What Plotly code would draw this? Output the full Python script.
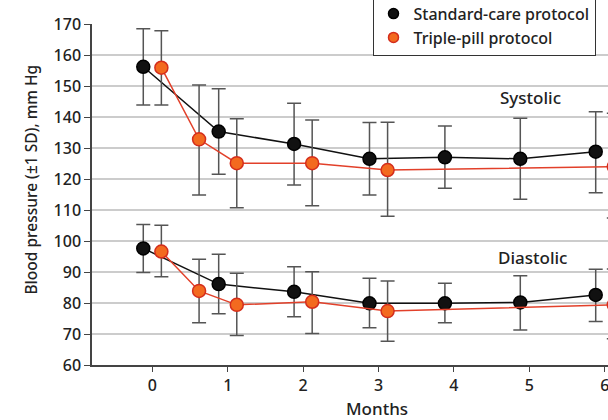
import plotly.graph_objects as go

# Visit schedule (months) for each protocol
months_std = [0, 1, 2, 3, 4, 5, 6]
months_tp = [0, 0.5, 1, 2, 3, 6]

# Systolic blood pressure, mean and ±1 SD bounds (mm Hg)
sys_std_mean = [156.2, 135.3, 131.3, 126.5, 127.0, 126.5, 128.8]
sys_std_upper = [168.5, 149.1, 144.4, 138.2, 137.1, 139.6, 141.7]
sys_std_lower = [143.9, 121.5, 118.1, 114.8, 117.0, 113.5, 115.6]

sys_tp_mean = [155.9, 132.8, 125.1, 125.1, 122.9, 124.0]
sys_tp_upper = [167.8, 150.3, 139.4, 139.0, 138.3, 141.2]
sys_tp_lower = [143.9, 114.8, 110.7, 111.4, 108.0, 107.4]

# Diastolic blood pressure, mean and ±1 SD bounds (mm Hg)
dia_std_mean = [97.6, 86.1, 83.6, 79.9, 79.9, 80.2, 82.6]
dia_std_upper = [105.3, 95.7, 91.7, 88.0, 86.4, 88.8, 90.9]
dia_std_lower = [89.8, 76.5, 75.6, 72.0, 73.6, 71.3, 74.0]

dia_tp_mean = [96.6, 83.9, 79.4, 80.4, 77.4, 79.4]
dia_tp_upper = [105.1, 94.1, 89.6, 90.1, 87.1, 91.0]
dia_tp_lower = [88.5, 73.6, 69.5, 70.2, 67.7, 68.5]

series_names = ["Standard-care protocol", "Triple-pill protocol"]
panel_labels = ["Systolic", "Diastolic"]
y_ticks = list(range(60, 171, 10))
x_ticks = [0, 1, 2, 3, 4, 5, 6]

FONT = "Noto Sans"
TEXT = "#222222"
WEIGHT = 500
DODGE = 0.12

STD_STYLE = dict(line_color="#111111", fill="#111111", edge="#000000")
TP_STYLE = dict(line_color="#e2402a", fill="#f36a1f", edge="#d42d1c")


def sd_trace(months, mean, upper, lower, style, offset):
    return go.Scatter(
        x=[m + offset for m in months],
        y=mean,
        mode="lines+markers",
        showlegend=False,
        line=dict(color=style["line_color"], width=1.5),
        marker=dict(size=13, color=style["fill"],
                    line=dict(color=style["edge"], width=1.5)),
        error_y=dict(
            type="data",
            symmetric=False,
            array=[u - m for u, m in zip(upper, mean)],
            arrayminus=[m - l for m, l in zip(mean, lower)],
            color="#555555",
            thickness=1.5,
            width=7,
        ),
        hoverinfo="skip",
    )


fig = go.Figure()
fig.add_trace(sd_trace(months_std, sys_std_mean, sys_std_upper, sys_std_lower, STD_STYLE, -DODGE))
fig.add_trace(sd_trace(months_tp, sys_tp_mean, sys_tp_upper, sys_tp_lower, TP_STYLE, DODGE))
fig.add_trace(sd_trace(months_std, dia_std_mean, dia_std_upper, dia_std_lower, STD_STYLE, -DODGE))
fig.add_trace(sd_trace(months_tp, dia_tp_mean, dia_tp_upper, dia_tp_lower, TP_STYLE, DODGE))

# Marker-only legend entries
for name, style in zip(series_names, [STD_STYLE, TP_STYLE]):
    fig.add_trace(go.Scatter(
        x=[None], y=[None], mode="markers", name=name,
        marker=dict(size=10, color=style["fill"],
                    line=dict(color=style["edge"], width=1.5)),
    ))


def font(size):
    return dict(family=FONT, size=size, color=TEXT, weight=WEIGHT)


annotations = [
    dict(text=panel_labels[0], x=5.02, y=146.2, xref="x", yref="y",
         showarrow=False, font=font(17)),
    dict(text=panel_labels[1], x=5.04, y=94.8, xref="x", yref="y",
         showarrow=False, font=font(17)),
    dict(text="Months", x=2.98, y=-0.128, xref="x", yref="paper",
         xanchor="center", yanchor="middle", showarrow=False,
         font=font(17)),
    dict(text="Blood pressure (±1 SD), mm Hg", x=-0.119, y=119.7,
         xref="paper", yref="y", xanchor="center", yanchor="middle",
         textangle=-90, showarrow=False, font=font(15.5)),
]

fig.update_layout(
    width=608,
    height=420,
    margin=dict(l=92, r=0, t=24, b=55, autoexpand=False),
    paper_bgcolor="white",
    plot_bgcolor="white",
    font=font(16),
    annotations=annotations,
    legend=dict(
        x=(372.5 - 92) / 516, y=(365 - 55.7) / 341,
        xanchor="left", yanchor="bottom",
        bgcolor="white", bordercolor="#333333", borderwidth=1,
        font=font(16),
        tracegroupgap=0,
    ),
    xaxis=dict(
        range=[-0.80, 6.043],
        tickvals=x_ticks,
        showgrid=False,
        zeroline=False,
        showline=True, linecolor="#444444", linewidth=1.5,
        ticks="outside", ticklen=5, tickwidth=1.2, tickcolor="#444444",
        tickfont=font(16),
        ticklabeloverflow="allow",
    ),
    yaxis=dict(
        range=[60, 170],
        tickvals=y_ticks,
        showgrid=True, gridcolor="#cccccc", gridwidth=1.5,
        zeroline=False,
        showline=True, linecolor="#444444", linewidth=1.5,
        ticks="outside", ticklen=6, tickwidth=1.2, tickcolor="#444444",
        tickfont=font(16),
    ),
)

fig.write_html("out.html")
